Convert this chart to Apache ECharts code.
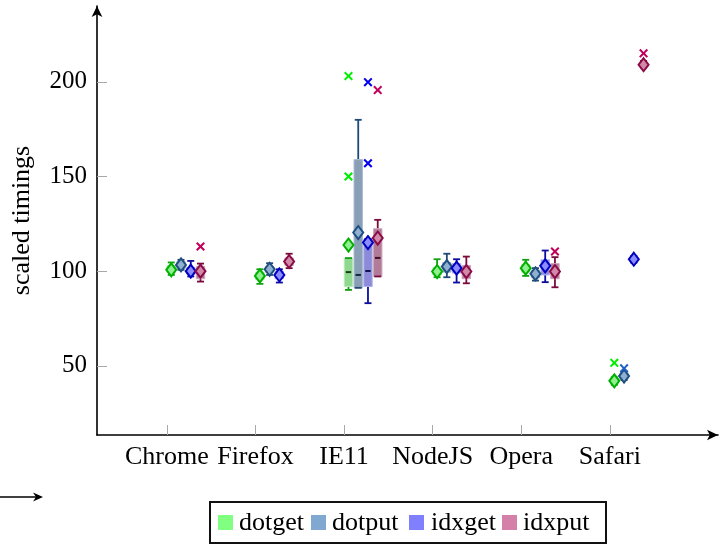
<!DOCTYPE html>
<html><head><meta charset="utf-8">
<script src="https://cdn.jsdelivr.net/npm/echarts@6/dist/echarts.min.js"></script>
<style>html,body{margin:0;padding:0;background:#fff}#c{width:726px;height:544px}</style>
</head><body><div id="c"></div>
<script>
const categories = ['Chrome', 'Firefox', 'IE11', 'NodeJS', 'Opera', 'Safari'];
const seriesNames = ['dotget', 'dotput', 'idxget', 'idxput'];
const yTicks = [50, 100, 150, 200];
const xTicks = [0, 1, 2, 3, 4, 5];

// per category: [lower whisker, lower quartile, median, upper quartile, upper whisker]
const dotgetBoxes = [
  [98, 99.5, 101, 103, 104.6],
  [93.3, 95.5, 97.5, 99.5, 101],
  [90.1, 91.9, 99.5, 106.9, 106.9],
  [96.8, 98, 100, 102, 106.3],
  [97.5, 99.5, 101.5, 103.5, 106],
  [40, 41, 42, 43, 44]
];
const dotputBoxes = [
  [100.7, 101.5, 103.3, 105, 106],
  [98, 99.5, 101, 102.5, 104.2],
  [91.2, 91.2, 98, 158.9, 179.9],
  [96.8, 99.5, 102, 104.5, 109.2],
  [95, 96.5, 98.5, 100.5, 101.6],
  [42.5, 43.5, 45, 46, 47]
];
const idxgetBoxes = [
  [97.2, 98.5, 100, 102, 105.4],
  [94, 96, 98, 100, 101],
  [83.1, 91.9, 100.1, 117, 117],
  [94, 99, 101.5, 104, 106.3],
  [94.2, 98, 102.5, 106, 110.9],
  [104.5, 105.2, 106.2, 107.2, 108]
];
const idxputBoxes = [
  [94.5, 96, 100, 102.5, 104],
  [101.6, 103, 105, 107, 109.2],
  [97.2, 97.2, 107, 122.4, 127.1],
  [93.6, 96, 100, 103, 107.7],
  [91.5, 96, 100, 104, 107.4],
  [207.5, 208.2, 209, 210, 211]
];

const dotgetMeans = [100.7, 97.5, 113.8, 99.8, 101.6, 42.1];
const dotputMeans = [103.3, 101, 120.4, 102.4, 98.6, 44.6];
const idxgetMeans = [100, 98, 115.1, 101.6, 102.8, 106.3];
const idxputMeans = [100, 105.1, 117.5, 99.8, 99.8, 209];

// [category index, value]
const dotgetOutliers = [[2, 203], [2, 150], [5, 51.6]];
const dotputOutliers = [[5, 48.7]];
const idxgetOutliers = [[2, 199.8], [2, 157]];
const idxputOutliers = [[0, 113], [2, 195.6], [4, 110.4], [5, 215]];

const allBoxes = [dotgetBoxes, dotputBoxes, idxgetBoxes, idxputBoxes];
const allMeans = [dotgetMeans, dotputMeans, idxgetMeans, idxputMeans];
const allOutliers = [dotgetOutliers, dotputOutliers, idxgetOutliers, idxputOutliers];

// ---- style / layout ----
const FONT = 'Liberation Serif';
const OFFSETS = [0.05, 0.16, 0.27, 0.38];
const BOX_W = 0.095;
const STYLES = [
  {legend: '#80ff80', box: '#8fd88f', edge: '#b5ecb5', line: '#10a010', median: '#1e3a1e', meanFill: '#90f090', meanEdge: '#00b000', out: '#00ee00'},
  {legend: '#80a8d0', box: '#889fb6', edge: '#aabbd0', line: '#1f4a78', median: '#17273a', meanFill: '#8fb0d0', meanEdge: '#1f4f80', out: '#2060c0'},
  {legend: '#8080ff', box: '#8b8bd9', edge: '#b0b0ee', line: '#0c0ca0', median: '#121250', meanFill: '#8c8cff', meanEdge: '#0000c0', out: '#0000ee'},
  {legend: '#d580a8', box: '#b27c99', edge: '#d0a6bc', line: '#7a0a3a', median: '#3e1022', meanFill: '#d08aa8', meanEdge: '#8a0a48', out: '#c0005a'}
];
const XPATH = 'path://M1.6,0L5,3.4L8.4,0L10,1.6L6.6,5L10,8.4L8.4,10L5,6.6L1.6,10L0,8.4L3.4,5L0,1.6Z';
// legend box layout (pixels)
const LEG = {x: 210, y: 502, w: 396, h: 41, swatchX: [218, 311, 409, 502], textX: [239, 332, 431, 523], swatch: 15};

function makeRender(si) {
  const st = STYLES[si];
  return function (params, api) {
    const x = api.value(0);
    const p = k => api.coord([x, api.value(k)]);
    const lw = p(1), q1 = p(2), md = p(3), q3 = p(4), uw = p(5);
    const cx = lw[0];
    const half = api.size([BOX_W, 0])[0] / 2;
    const cap = 3.5;
    const ls = {stroke: st.line, lineWidth: 1.8};
    return {
      type: 'group',
      children: [
        {type: 'line', shape: {x1: cx, y1: q3[1], x2: cx, y2: uw[1]}, style: ls},
        {type: 'line', shape: {x1: cx, y1: q1[1], x2: cx, y2: lw[1]}, style: ls},
        {type: 'rect', shape: {x: cx - half, y: q3[1], width: half * 2, height: q1[1] - q3[1]},
          style: {fill: st.box, stroke: st.edge, lineWidth: 1}},
        {type: 'line', shape: {x1: cx - cap, y1: uw[1], x2: cx + cap, y2: uw[1]}, style: ls},
        {type: 'line', shape: {x1: cx - cap, y1: lw[1], x2: cx + cap, y2: lw[1]}, style: ls},
        {type: 'line', shape: {x1: cx - half + 1.5, y1: md[1], x2: cx + half - 1.5, y2: md[1]},
          style: {stroke: st.median, lineWidth: 2}}
      ]
    };
  };
}

const series = [];
seriesNames.forEach((name, si) => {
  series.push({
    name: name,
    type: 'custom',
    renderItem: makeRender(si),
    itemStyle: {color: STYLES[si].legend},
    encode: {x: 0, y: [1, 2, 3, 4, 5]},
    data: allBoxes[si].map((b, ci) => [ci + OFFSETS[si]].concat(b)),
    z: 2
  });
});
seriesNames.forEach((name, si) => {
  series.push({
    name: name + ' mean',
    type: 'scatter',
    symbol: 'diamond',
    symbolSize: [10, 13],
    itemStyle: {color: STYLES[si].meanFill, borderColor: STYLES[si].meanEdge, borderWidth: 2, opacity: 1},
    data: allMeans[si].map((m, ci) => [ci + OFFSETS[si], m]),
    z: 4
  });
  series.push({
    name: name + ' outliers',
    type: 'scatter',
    symbol: XPATH,
    symbolSize: 9,
    itemStyle: {color: STYLES[si].out, opacity: 1},
    data: allOutliers[si].map(o => [o[0] + OFFSETS[si], o[1]]),
    z: 4
  });
});

const legendGraphics = [
  {type: 'rect', shape: {x: LEG.x, y: LEG.y, width: LEG.w, height: LEG.h}, style: {fill: '#fff', stroke: '#111', lineWidth: 2}, z: 10}
];
seriesNames.forEach((name, si) => {
  legendGraphics.push({type: 'rect', shape: {x: LEG.swatchX[si], y: LEG.y + 13, width: LEG.swatch, height: LEG.swatch},
    style: {fill: STYLES[si].legend}, z: 11});
  legendGraphics.push({type: 'text', x: LEG.textX[si], y: LEG.y + 21,
    style: {text: name, font: '26px "Liberation Serif", serif', fontFamily: FONT, fontSize: 26, fill: '#000', verticalAlign: 'middle', align: 'left'}, z: 11});
});

const chart = echarts.init(document.getElementById('c'), null, {renderer: 'canvas'});
chart.setOption({
  animation: false,
  backgroundColor: '#fff',
  textStyle: {fontFamily: FONT},
  grid: {left: 97, right: 8, top: 6, bottom: 109, containLabel: false},
  xAxis: {
    type: 'value', min: -0.788, max: 6.22,
    axisLine: {show: true, onZero: false, symbol: ['none', 'arrow'], symbolSize: [8, 11], lineStyle: {color: '#000', width: 1.6}},
    axisTick: {show: true, inside: true, length: 10, lineStyle: {color: '#a8a8a8', width: 1}, customValues: xTicks},
    axisLabel: {customValues: xTicks, formatter: v => categories[Math.round(v)], color: '#000', fontFamily: FONT, fontSize: 26, margin: 9},
    splitLine: {show: false}
  },
  yAxis: {
    type: 'value', min: 13.5, max: 240,
    name: 'scaled timings', nameLocation: 'middle', nameGap: 62,
    nameTextStyle: {fontFamily: FONT, fontSize: 26, color: '#000'},
    axisLine: {show: true, onZero: false, symbol: ['none', 'arrow'], symbolSize: [8, 11], lineStyle: {color: '#000', width: 1.6}},
    axisTick: {show: true, inside: true, length: 10, lineStyle: {color: '#a8a8a8', width: 1}, customValues: yTicks},
    axisLabel: {customValues: yTicks, color: '#000', fontFamily: FONT, fontSize: 25, margin: 10},
    splitLine: {show: false}
  },
  graphic: [
    {type: 'line', shape: {x1: 0, y1: 497, x2: 38, y2: 497}, style: {stroke: '#000', lineWidth: 1.6}},
    {type: 'polygon', shape: {points: [[43, 497], [33, 492.5], [36, 497], [33, 501.5]]}, style: {fill: '#000'}}
  ].concat(legendGraphics),
  series: series
});
</script></body></html>
